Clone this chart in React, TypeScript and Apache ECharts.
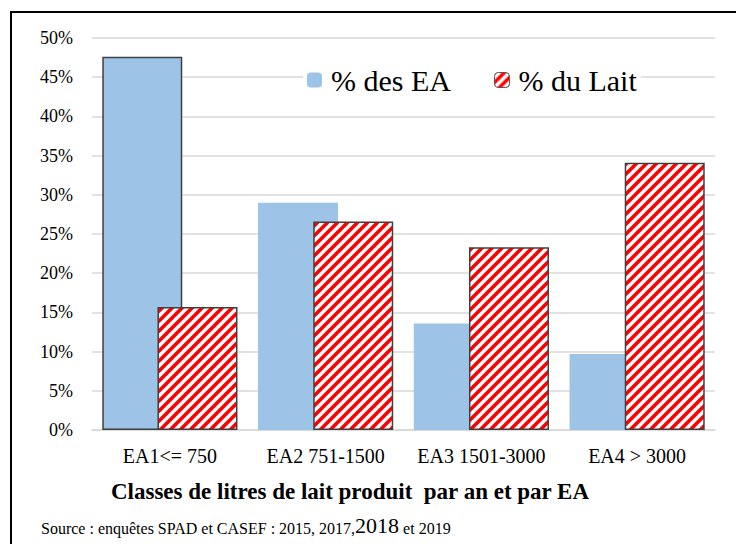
import React, { useEffect, useRef } from "react";
import * as echarts from "echarts";

const categories = ["EA1<= 750", "EA2 751-1500", "EA3 1501-3000", "EA4 > 3000"];
const seriesNames = ["% des EA", "% du Lait"];
const eaValues = [47.6, 29.0, 13.6, 9.7];
const laitValues = [15.7, 26.6, 23.3, 34.1];
const xTitle = "Classes de litres de lait produit  par an et par EA";
const sourceParts = ["Source : enquêtes SPAD et CASEF : 2015, 2017,", "2018", " et 2019"];

const FONT = "Liberation Serif";

const stripeSvg =
  "<svg xmlns='http://www.w3.org/2000/svg' width='10' height='10'>" +
  "<rect width='10' height='10' fill='white'/>" +
  "<path d='M-3,3 L3,-3 M0,10 L10,0 M7,13 L13,7' stroke='red' stroke-width='3.6'/>" +
  "</svg>";
const stripeUrl = "data:image/svg+xml;charset=utf-8," + encodeURIComponent(stripeSvg);

export default function App() {
  const ref = useRef<HTMLDivElement>(null);
  useEffect(() => {
    document.body.style.margin = "0";
    const chart = echarts.init(ref.current!, undefined, { renderer: "svg" });
    const pattern: any = { image: stripeUrl, repeat: "repeat" };
    chart.setOption({
      animation: false,
      backgroundColor: "#ffffff",
      textStyle: { fontFamily: FONT },
      grid: { left: 92, right: 21, top: 38, bottom: 114, containLabel: false },
      legend: {
        left: 303,
        top: 63,
        itemWidth: 15,
        itemHeight: 15,
        itemGap: 43,
        backgroundColor: "#ffffff",
        padding: [2, 4, 2, 4],
        textStyle: { fontSize: 30, color: "#000", fontFamily: FONT, padding: [0, 0, 0, 4] },
        data: [
          { name: seriesNames[0], itemStyle: { color: "#9dc3e6", borderWidth: 0 } },
          { name: seriesNames[1], itemStyle: { color: pattern, borderColor: "#555", borderWidth: 1 } },
        ],
      },
      xAxis: {
        type: "category",
        data: categories,
        axisLine: { show: true, lineStyle: { color: "#d9d9d9", width: 1.5 } },
        axisTick: { show: false },
        axisLabel: { color: "#000", fontSize: 20, fontFamily: FONT, margin: 16, interval: 0 },
      },
      yAxis: {
        type: "value",
        min: 0,
        max: 50,
        interval: 5,
        axisLine: { show: false },
        axisTick: { show: false },
        splitLine: { lineStyle: { color: "#d9d9d9", width: 1.5 } },
        axisLabel: { color: "#000", fontSize: 18, fontFamily: FONT, margin: 19, formatter: "{value}%" },
      },
      series: [
        {
          name: seriesNames[0],
          type: "bar",
          barWidth: 80,
          barGap: "-31%",
          itemStyle: { color: "#9dc3e6" },
          data: eaValues.map((v, i) =>
            i === 0 ? { value: v, itemStyle: { borderColor: "#404040", borderWidth: 1.5 } } : v
          ),
        },
        {
          name: seriesNames[1],
          type: "bar",
          barWidth: 80,
          itemStyle: { color: pattern, borderColor: "#404040", borderWidth: 1.5 },
          data: laitValues,
        },
      ],
      graphic: [
        {
          type: "rect",
          shape: { x: 11, y: 12, width: 800, height: 700 },
          style: { fill: "none", stroke: "#000", lineWidth: 2 },
          silent: true,
        },
        {
          type: "text",
          x: 350,
          y: 491,
          style: {
            text: xTitle,
            fontSize: 23,
            fontWeight: "bold",
            fontFamily: FONT,
            fill: "#000",
            align: "center",
            verticalAlign: "middle",
          },
        },
        {
          type: "text",
          x: 41,
          y: 536,
          style: {
            text: "{s|" + sourceParts[0] + "}{b|" + sourceParts[1] + "}{s|" + sourceParts[2] + "}",
            verticalAlign: "bottom",
            rich: {
              s: { fontSize: 16, fontFamily: FONT, fill: "#000", verticalAlign: "bottom" },
              b: { fontSize: 22, fontFamily: FONT, fill: "#000", verticalAlign: "bottom" },
            },
          },
        },
      ],
    });
    return () => chart.dispose();
  }, []);
  return <div ref={ref} style={{ width: 736, height: 544 }} />;
}
